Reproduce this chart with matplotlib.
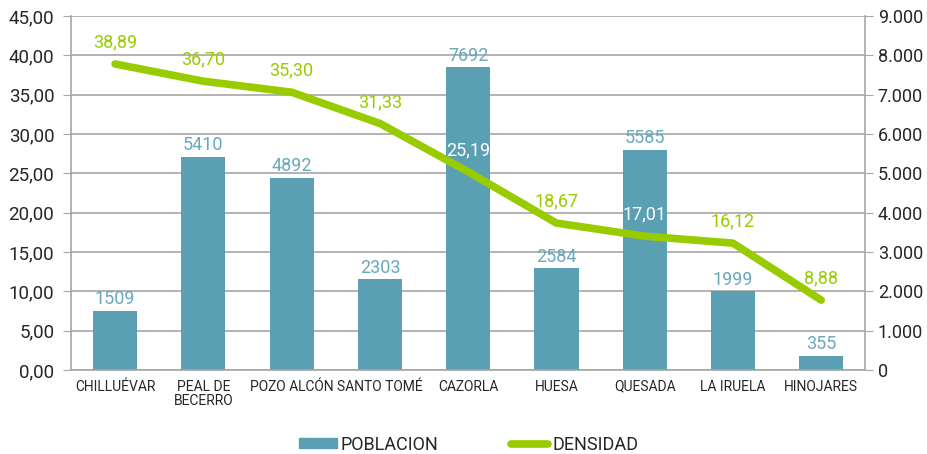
import matplotlib.pyplot as plt
import numpy as np
from matplotlib.patches import Patch
from matplotlib.lines import Line2D

plt.rcParams['font.family'] = ['Roboto', 'DejaVu Sans']

# data
municipios = ['CHILLUÉVAR', 'PEAL DE\nBECERRO', 'POZO ALCÓN', 'SANTO TOMÉ', 'CAZORLA',
              'HUESA', 'QUESADA', 'LA IRUELA', 'HINOJARES']
poblacion = [1509, 5410, 4892, 2303, 7692, 2584, 5585, 1999, 355]
densidad = [38.89, 36.70, 35.30, 31.33, 25.19, 18.67, 17.01, 16.12, 8.88]

bar_color = '#5b9fb3'
line_color = '#99cc00'
grid_color = '#a6a6a6'
text_color = '#262626'

fig = plt.figure(figsize=(9.28, 4.54), dpi=100)
ax = fig.add_axes([0.0765, 0.185, 0.856, 0.78])
x = np.arange(len(municipios))

# bars -> right axis (poblacion)
ax.bar(x, poblacion, width=0.5, color=bar_color, zorder=2)
ax.set_ylim(0, 9000)
ax.set_yticks(np.arange(0, 9001, 1000))
ax.set_yticklabels(['0'] + [f'{v // 1000}.000' for v in range(1000, 9001, 1000)])
ax.grid(axis='y', color=grid_color, lw=1.2, zorder=0)
ax.set_xlim(-0.5, len(municipios) - 0.5)
ax.set_xticks(x)
ax.set_xticklabels(municipios, fontsize=10, color=text_color, linespacing=1.0)
ax.tick_params(axis='x', length=0, pad=7)
for s in ['left', 'right', 'bottom']:
    ax.spines[s].set_color(grid_color)
    ax.spines[s].set_linewidth(1.2)
ax.spines['top'].set_visible(False)

for xi, p in zip(x, poblacion):
    ax.annotate(str(p), (xi, p), xytext=(0, 2), textcoords='offset points',
                ha='center', va='bottom', fontsize=13, color='#6aa8bb')

# line -> left axis (densidad)
ax2 = ax.twinx()
ax.yaxis.tick_right()
ax.tick_params(axis='y', length=6, color=grid_color, labelsize=13, labelcolor=text_color, pad=3)
ax2.plot(x, densidad, color=line_color, lw=5.5, solid_capstyle='round', zorder=3)
ax2.set_ylim(0, 45)
ax2.set_yticks(np.arange(0, 46, 5))
ax2.set_yticklabels([f'{v:.2f}'.replace('.', ',') for v in np.arange(0, 46, 5)])
ax2.yaxis.tick_left()
ax2.tick_params(axis='y', length=6, color=grid_color, labelsize=13.5, labelcolor=text_color, pad=6)
for s in ax2.spines.values():
    s.set_visible(False)

for xi, d, p in zip(x, densidad, poblacion):
    col = 'white' if p / 200 > d + 3 else line_color
    ax2.annotate(f'{d:.2f}'.replace('.', ','), (xi, d), xytext=(0, 9), textcoords='offset points',
                 ha='center', va='bottom', fontsize=13, color=col)

handles = [Patch(color=bar_color), Line2D([], [], color=line_color, lw=5.5, solid_capstyle='round')]
leg = fig.legend(handles, ['POBLACION', 'DENSIDAD'], loc='lower center', bbox_to_anchor=(0.505, -0.035),
                 ncol=2, frameon=False, fontsize=13, columnspacing=4.0, handlelength=2.1,
                 handleheight=0.5, handletextpad=0.2, labelcolor=text_color)

fig.savefig('out.png', dpi=100)
